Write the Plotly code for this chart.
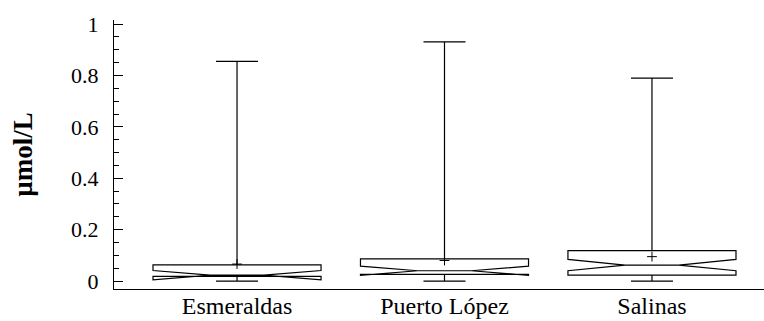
import plotly.graph_objects as go

# Summary statistics per sampling site (µmol/L)
sites = ["Esmeraldas", "Puerto López", "Salinas"]
lower_whisker = [0.0, 0.0, 0.0]
q1 = [0.018, 0.026, 0.023]
median = [0.023, 0.040, 0.062]
q3 = [0.063, 0.086, 0.118]
upper_whisker = [0.855, 0.931, 0.79]
notch_half = [0.018, 0.018, 0.022]
means = [0.066, 0.080, 0.095]

yticks = [0, 0.2, 0.4, 0.6, 0.8, 1]
ytick_text = ["0", "0.2", "0.4", "0.6", "0.8", "1"]

font_family = "Liberation Serif"

fig = go.Figure()

fig.add_trace(go.Box(
    x=sites,
    lowerfence=lower_whisker,
    q1=q1,
    median=median,
    q3=q3,
    upperfence=upper_whisker,
    notchspan=notch_half,
    notched=True,
    notchwidth=0.34,
    width=0.81,
    whiskerwidth=0.25,
    boxpoints=False,
    fillcolor="white",
    line=dict(color="black", width=1.2),
    showlegend=False,
    hoverinfo="skip",
))

fig.add_trace(go.Scatter(
    x=sites,
    y=means,
    mode="markers",
    marker=dict(symbol="cross-thin", size=7, line=dict(color="black", width=1)),
    showlegend=False,
    hoverinfo="skip",
))

fig.update_layout(
    width=764,
    height=321,
    margin=dict(l=114, r=0, t=20, b=32),
    paper_bgcolor="white",
    plot_bgcolor="white",
    font=dict(family=font_family, size=22, color="black"),
)

fig.update_xaxes(
    type="category",
    range=[-0.593, 2.54],
    automargin=False,
    showline=True,
    linecolor="black",
    linewidth=1.2,
    ticks="",
    showgrid=False,
    zeroline=False,
    ticklabelstandoff=-5,
    tickfont=dict(family=font_family, size=24),
)

fig.update_yaxes(
    range=[-0.031, 1.016],
    automargin=False,
    tickvals=yticks,
    ticktext=ytick_text,
    ticks="inside",
    ticklen=9,
    tickwidth=1,
    tickcolor="black",
    minor=dict(dtick=0.05, ticks="inside", ticklen=5, tickcolor="black", tickwidth=1, showgrid=False),
    showline=True,
    linecolor="black",
    linewidth=1.2,
    showgrid=False,
    zeroline=False,
    ticklabelstandoff=10,
    tickfont=dict(family=font_family, size=22),
    title=dict(text="<b>µmol/L</b>", font=dict(family=font_family, size=27), standoff=30),
)

fig.write_html("out.html")
